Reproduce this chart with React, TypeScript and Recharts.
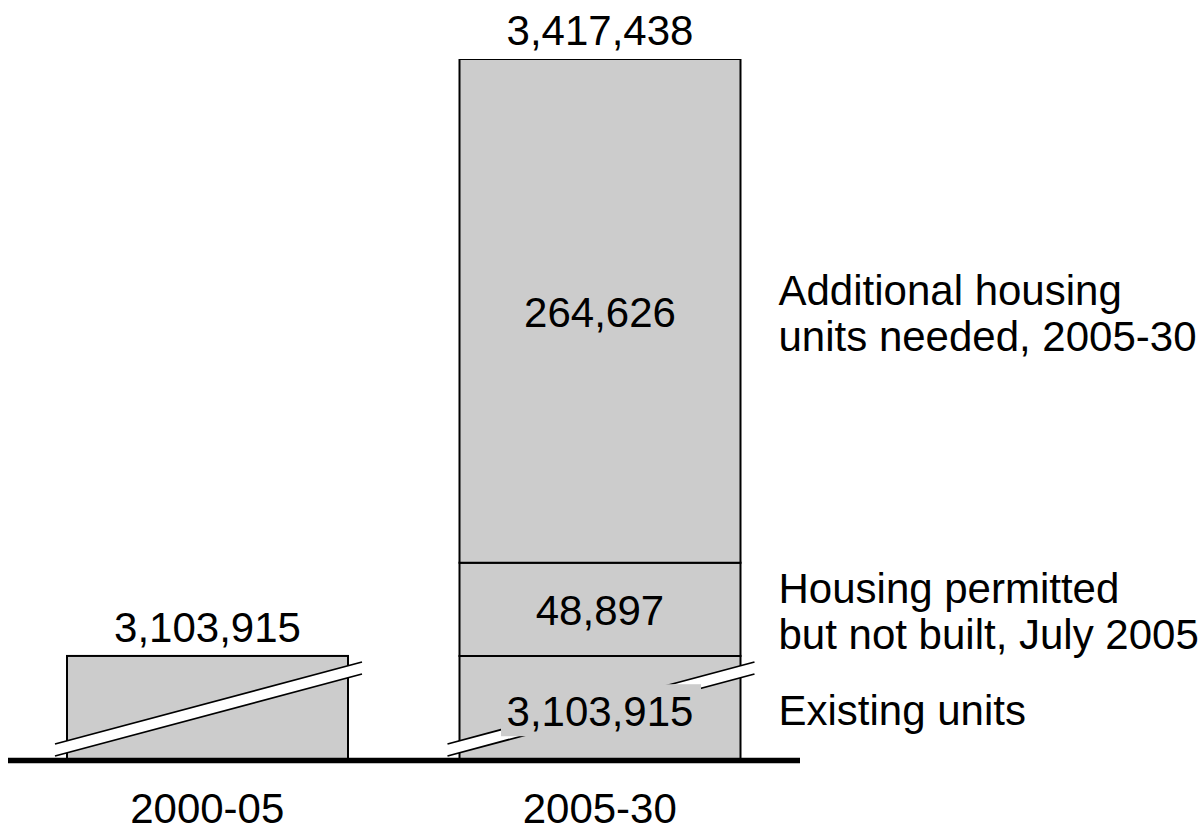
import React from 'react';
import { BarChart, Bar, XAxis, YAxis, LabelList } from 'recharts';

const categories = ['2000-05', '2005-30'];
const existingUnits = [3103915, 3103915];
const permittedNotBuilt = [0, 48897];
const additionalNeeded = [0, 264626];
const totals = [3103915, 3417438];

const existingName = ['Existing units'];
const permittedName = ['Housing permitted', 'but not built, July 2005'];
const additionalName = ['Additional housing', 'units needed, 2005-30'];

// axis starts well above zero, the existing block is drawn broken
const axisFloor = 3049000;

const FONT = '"Liberation Sans", Arial, Helvetica, sans-serif';
const FILL = '#cccccc';
const STACK = ['existing', 'permitted', 'additional'];
const SIDE_CATEGORY = categories[categories.length - 1];

const data = categories.map((c, i) => ({
  category: c,
  existing: existingUnits[i],
  permitted: permittedNotBuilt[i],
  additional: additionalNeeded[i],
  total: totals[i],
}));

const fmt = (v: any) => Number(v).toLocaleString('en-US');

// total goes on whichever segment is the top of its stack
const topTotal = (key: string) => (entry: any) => {
  const p = entry?.payload;
  if (!p) return null;
  const rest = STACK.slice(STACK.indexOf(key) + 1);
  return rest.every((k) => !p[k]) ? p.total : null;
};
const onSideBar = (key: string) => (entry: any) =>
  entry?.payload?.category === SIDE_CATEGORY ? entry.payload[key] : null;

// bar with the diagonal "break" band through it
const BrokenBar = (props: any) => {
  const { x, y, width, height } = props;
  const b = y + height;
  const x0 = x - 12;
  const x1 = x + width + 14;
  return (
    <g>
      <rect x={x} y={y} width={width} height={height} fill={FILL} stroke="#000" strokeWidth={2} />
      <polygon points={`${x0},${b - 16.5} ${x1},${b - 98.5} ${x1},${b - 86.5} ${x0},${b - 4.5}`} fill="#fff" />
      <line x1={x0} y1={b - 16.5} x2={x1} y2={b - 98.5} stroke="#000" strokeWidth={1.8} />
      <line x1={x0} y1={b - 4.5} x2={x1} y2={b - 86.5} stroke="#000" strokeWidth={1.8} />
    </g>
  );
};

const TopLabel = (props: any) => {
  const { x, y, width, value } = props;
  if (value == null) return null;
  return (
    <text x={x + width / 2} y={y - 14} textAnchor="middle" fontSize={42} fontFamily={FONT} fill="#000">
      {fmt(value)}
    </text>
  );
};

const CenterLabel = (props: any) => {
  const { x, y, width, height, value } = props;
  if (!value) return null;
  return (
    <text x={x + width / 2} y={y + height / 2 + 16} textAnchor="middle" fontSize={42} fontFamily={FONT} fill="#000">
      {fmt(value)}
    </text>
  );
};

// inside label of the broken block sits on a patch that hides the break
const ExistingLabel = (props: any) => {
  const { x, y, width, height, value } = props;
  if (!value) return null;
  const cx = x + width / 2;
  const cy = y + height / 2;
  return (
    <g>
      <rect x={cx - 99} y={cy - 24} width={200} height={52} fill={FILL} />
      <text x={cx} y={cy + 18} textAnchor="middle" fontSize={42} fontFamily={FONT} fill="#000">
        {fmt(value)}
      </text>
    </g>
  );
};

const sideLabel = (lines: string[]) => (props: any) => {
  const { x, y, width, height, value } = props;
  if (value == null) return null;
  const cy = y + height / 2 + 2;
  const first = cy - ((lines.length - 1) * 46) / 2 + 15;
  return (
    <text x={x + width + 38} y={first} fontSize={42} fontFamily={FONT} fill="#000">
      {lines.map((l, i) => (
        <tspan key={i} x={x + width + 38} dy={i === 0 ? 0 : 46}>
          {l}
        </tspan>
      ))}
    </text>
  );
};

const CategoryTick = (props: any) => {
  const { x, y, payload } = props;
  return (
    <text x={x} y={y + 62.5} textAnchor="middle" fontSize={42} fontFamily={FONT} fill="#000">
      {payload.value}
    </text>
  );
};

export default function App() {
  return (
    <div style={{ position: 'absolute', left: 0, top: 0, width: 1203, height: 827, background: '#fff' }}>
      <BarChart
        width={1203}
        height={827}
        data={data}
        margin={{ top: 59, right: 403, bottom: 6.5, left: 8 }}
      >
        <XAxis
          dataKey="category"
          interval={0}
          tickLine={false}
          tickSize={0}
          tickMargin={0}
          height={60}
          padding={{ left: 3, right: 4 }}
          axisLine={{ stroke: '#000', strokeWidth: 5.5 }}
          tick={<CategoryTick />}
        />
        <YAxis hide type="number" domain={[axisFloor, Math.max(...totals)]} allowDataOverflow />
        <Bar dataKey="existing" stackId="a" barSize={281} shape={<BrokenBar />} isAnimationActive={false}>
          <LabelList valueAccessor={onSideBar('existing')} content={<ExistingLabel />} />
          <LabelList valueAccessor={onSideBar('existing')} content={sideLabel(existingName)} />
          <LabelList valueAccessor={topTotal('existing')} content={<TopLabel />} />
        </Bar>
        <Bar dataKey="permitted" stackId="a" barSize={281} fill={FILL} stroke="#000" strokeWidth={2} isAnimationActive={false}>
          <LabelList valueAccessor={onSideBar('permitted')} content={<CenterLabel />} />
          <LabelList valueAccessor={onSideBar('permitted')} content={sideLabel(permittedName)} />
          <LabelList valueAccessor={topTotal('permitted')} content={<TopLabel />} />
        </Bar>
        <Bar dataKey="additional" stackId="a" barSize={281} fill={FILL} stroke="#000" strokeWidth={2} isAnimationActive={false}>
          <LabelList valueAccessor={onSideBar('additional')} content={<CenterLabel />} />
          <LabelList valueAccessor={onSideBar('additional')} content={sideLabel(additionalName)} />
          <LabelList valueAccessor={topTotal('additional')} content={<TopLabel />} />
        </Bar>
      </BarChart>
    </div>
  );
}
